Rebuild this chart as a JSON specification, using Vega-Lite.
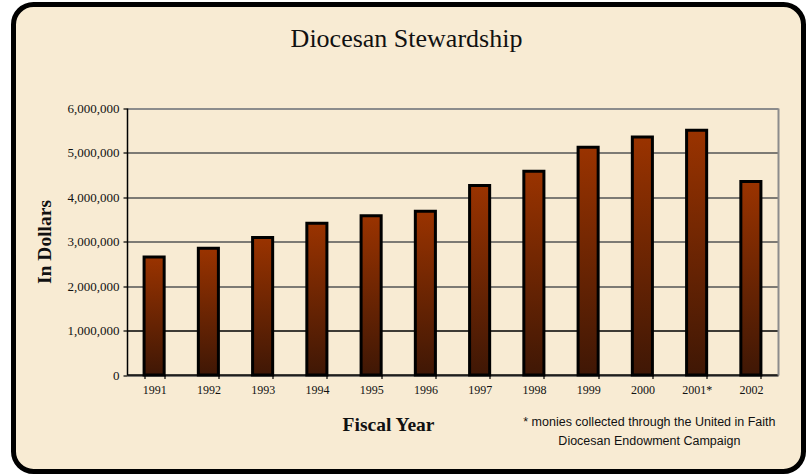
{
  "$schema": "https://vega.github.io/schema/vega-lite/v6.json",
  "width": 790,
  "height": 467,
  "autosize": "none",
  "padding": {"left": 13.5, "top": 4.5, "right": 8.5, "bottom": 4.5},
  "background": "#ffffff",
  "config": {
    "view": {"stroke": "#000", "strokeWidth": 5, "cornerRadius": 20, "fill": "#f8ebd3"},
    "font": "Liberation Serif"
  },
  "title": {
    "text": "Diocesan Stewardship",
    "font": "Liberation Serif",
    "fontSize": 26,
    "fontWeight": "normal",
    "color": "#111",
    "anchor": "middle",
    "baseline": "alphabetic",
    "offset": -68,
    "dx": -2
  },
  "datasets": {
    "giving": [
      {"year": "1991", "amount": 2650000},
      {"year": "1992", "amount": 2850000},
      {"year": "1993", "amount": 3090000},
      {"year": "1994", "amount": 3410000},
      {"year": "1995", "amount": 3580000},
      {"year": "1996", "amount": 3680000},
      {"year": "1997", "amount": 4260000},
      {"year": "1998", "amount": 4580000},
      {"year": "1999", "amount": 5120000},
      {"year": "2000", "amount": 5350000},
      {"year": "2001*", "amount": 5500000},
      {"year": "2002", "amount": 4350000}
    ],
    "note": [
      {"year": "2000", "text": "* monies collected through the United in Faith\nDiocesan Endowment Campaign"}
    ]
  },
  "resolve": {"axis": {"y": "independent"}},
  "layer": [
    {
      "data": {"name": "giving"},
      "mark": {
        "type": "bar",
        "stroke": "#000",
        "strokeWidth": 3,
        "color": {
          "gradient": "linear",
          "x1": 0, "y1": 0, "x2": 0, "y2": 1,
          "stops": [
            {"offset": 0, "color": "#9a3300"},
            {"offset": 1, "color": "#3f1705"}
          ]
        }
      },
      "encoding": {
        "x": {
          "field": "year",
          "type": "nominal",
          "sort": null,
          "scale": {"paddingInner": 0.63, "paddingOuter": 0.315, "range": [113.5, 764.5]},
          "axis": {
            "title": "Fiscal Year",
            "offset": -97,
            "labelAngle": 0,
            "labelFont": "Liberation Serif",
            "labelFontSize": 12,
            "labelColor": "#111",
            "labelPadding": 6,
            "tickBand": "extent",
            "tickSize": 4,
            "tickColor": "#000",
            "tickWidth": 1.2,
            "domainColor": "#000",
            "domainWidth": 1.5,
            "grid": false,
            "titleFont": "Liberation Serif",
            "titleFontSize": 19.5,
            "titleFontWeight": "bold",
            "titleColor": "#111",
            "titleX": 374.5,
            "titleY": 56,
            "titleAlign": "center",
            "titleBaseline": "alphabetic"
          }
        },
        "y": {
          "field": "amount",
          "type": "quantitative",
          "scale": {"domain": [0, 6000000], "nice": false, "range": [370.5, 103.5]},
          "axis": {
            "title": "In Dollars",
            "offset": -113.5,
            "values": [0, 1000000, 2000000, 3000000, 4000000, 5000000, 6000000],
            "format": ",d",
            "labelFont": "Liberation Serif",
            "labelFontSize": 13,
            "labelColor": "#111",
            "labelPadding": 4,
            "tickSize": 4,
            "tickColor": "#000",
            "tickWidth": 1.2,
            "domainColor": "#000",
            "domainWidth": 1.5,
            "grid": true,
            "gridColor": {"condition": [{"test": "datum.value === 1000000", "value": "#000"}, {"test": "datum.value === 6000000", "value": "#8c8c8c"}], "value": "#555"},
            "gridWidth": {"condition": {"test": "datum.value === 6000000", "value": 2}, "value": 1.3},
            "titleFont": "Liberation Serif",
            "titleFontSize": 19.5,
            "titleFontWeight": "bold",
            "titleColor": "#111",
            "titleX": -82.5,
            "titleY": 237,
            "titleAngle": -90,
            "titleAlign": "center",
            "titleBaseline": "middle"
          }
        }
      }
    },
    {
      "data": {"name": "note"},
      "mark": {
        "type": "text",
        "font": "Liberation Sans",
        "fontSize": 12.5,
        "color": "#111",
        "align": "center",
        "baseline": "top",
        "lineBreak": "\n",
        "lineHeight": 18.5,
        "dx": 7,
        "dy": 41
      },
      "encoding": {
        "x": {"field": "year", "type": "nominal"},
        "y": {
          "datum": 0,
          "type": "quantitative",
          "axis": {
            "orient": "right",
            "offset": -25.5,
            "title": null,
            "labels": false,
            "ticks": false,
            "grid": false,
            "domainColor": "#8c8c8c",
            "domainWidth": 2
          }
        },
        "text": {"field": "text"}
      }
    }
  ]
}
